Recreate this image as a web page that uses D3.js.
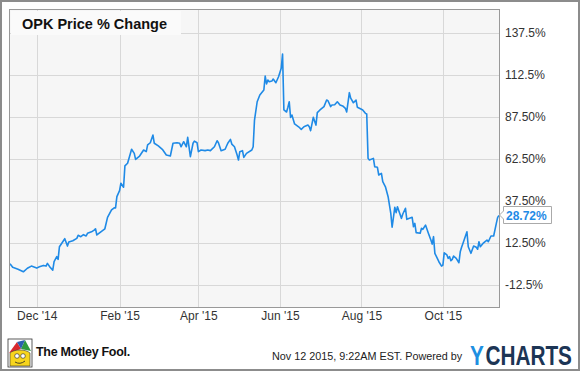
<!DOCTYPE html>
<html>
<head>
<meta charset="utf-8">
<script src="https://cdn.jsdelivr.net/npm/d3@7"></script>
<style>
  body { margin: 0; background: #fff; }
  svg { display: block; font-family: Arial, "Liberation Sans", sans-serif; }
</style>
</head>
<body>
<div id="chart"></div>
<script>
// OPK price % change
var dates = ["2014-11-11","2014-11-13","2014-11-17","2014-11-21","2014-11-24","2014-11-27","2014-12-01","2014-12-03","2014-12-06","2014-12-08",
  "2014-12-09","2014-12-11","2014-12-13","2014-12-14","2014-12-16","2014-12-17","2014-12-18","2014-12-21","2014-12-22","2014-12-24",
  "2014-12-25","2014-12-28","2014-12-31","2015-01-01","2015-01-03","2015-01-05","2015-01-07","2015-01-08","2015-01-11","2015-01-13",
  "2015-01-14","2015-01-15","2015-01-18","2015-01-21","2015-01-23","2015-01-26","2015-01-28","2015-01-29","2015-01-30","2015-02-01",
  "2015-02-02","2015-02-04","2015-02-05","2015-02-07","2015-02-09","2015-02-10","2015-02-12","2015-02-13","2015-02-16","2015-02-19",
  "2015-02-21","2015-02-22","2015-02-24","2015-02-26","2015-02-27","2015-03-02","2015-03-05","2015-03-08","2015-03-11","2015-03-13",
  "2015-03-16","2015-03-18","2015-03-19","2015-03-21","2015-03-23","2015-03-24","2015-03-26","2015-03-28","2015-03-29","2015-03-31",
  "2015-04-01","2015-04-03","2015-04-06","2015-04-08","2015-04-10","2015-04-13","2015-04-15","2015-04-16","2015-04-18","2015-04-21",
  "2015-04-23","2015-04-25","2015-04-26","2015-04-28","2015-04-30","2015-05-01","2015-05-02","2015-05-04","2015-05-05","2015-05-07",
  "2015-05-11","2015-05-12","2015-05-13","2015-05-15","2015-05-17","2015-05-20","2015-05-21","2015-05-22","2015-05-23","2015-05-24",
  "2015-05-26","2015-05-27","2015-05-29","2015-05-31","2015-06-02","2015-06-03","2015-06-04","2015-06-06","2015-06-07","2015-06-08",
  "2015-06-09","2015-06-10","2015-06-12","2015-06-15","2015-06-17","2015-06-19","2015-06-22","2015-06-23","2015-06-24","2015-06-26",
  "2015-06-28","2015-06-29","2015-07-01","2015-07-04","2015-07-06","2015-07-07","2015-07-09","2015-07-10","2015-07-12","2015-07-14",
  "2015-07-16","2015-07-18","2015-07-20","2015-07-21","2015-07-23","2015-07-24","2015-07-26","2015-07-28","2015-07-29","2015-08-01",
  "2015-08-02","2015-08-04","2015-08-05","2015-08-06","2015-08-07","2015-08-10","2015-08-11","2015-08-13","2015-08-14","2015-08-16",
  "2015-08-17","2015-08-19","2015-08-21","2015-08-23","2015-08-24","2015-08-26","2015-08-27","2015-08-28","2015-08-29","2015-08-31",
  "2015-09-01","2015-09-03","2015-09-04","2015-09-06","2015-09-08","2015-09-09","2015-09-10","2015-09-11","2015-09-14","2015-09-15",
  "2015-09-16","2015-09-18","2015-09-20","2015-09-22","2015-09-23","2015-09-24","2015-09-25","2015-09-28","2015-09-30","2015-10-01",
  "2015-10-02","2015-10-04","2015-10-05","2015-10-06","2015-10-07","2015-10-08","2015-10-09","2015-10-11","2015-10-13","2015-10-14",
  "2015-10-15","2015-10-16","2015-10-19","2015-10-20","2015-10-22","2015-10-24","2015-10-26","2015-10-27","2015-10-28","2015-10-29",
  "2015-10-31","2015-11-03","2015-11-04","2015-11-06","2015-11-08","2015-11-10","2015-11-11","2015-11-12"];

var values = [0,-2.1,-3.3,-4.8,-2.7,-1.4,-2.6,-1.8,-1.0,-1.4,
  0.2,-2.1,-3.8,1.2,4.2,2.6,10.1,13.7,14.9,10.5,
  12.9,13.7,15.1,16.9,16.1,17.3,16.5,18.1,19.0,20.0,
  20.8,17.1,19.0,20.8,27.6,32.0,33.3,33.2,39.9,43.5,
  47.9,45.5,58.2,59.8,65.3,68.1,65.7,62.1,64.1,67.7,
  66.7,70.7,72,76.6,71.7,70.1,68.1,64.7,64.1,71.7,
  72,71.7,69.6,72.6,69.6,75.2,63.7,71.7,73,72,
  66.7,67.7,67.3,67.7,67.3,69.6,73.2,72,67.3,68.1,
  71.7,74,71.2,69.6,64.7,61.7,66.7,67.3,63.3,65.7,
  67.7,69.6,85.5,96.4,100.4,103.4,111.7,107,109.3,108.3,
  108.7,109.9,107.7,111.3,116.3,124.8,91.5,90.3,93.1,96.4,
  87.1,88.5,83.2,81.5,80,81.5,82.5,81.5,79.2,87.1,
  82.5,89.9,91.5,93.5,97.4,97,93.5,94.5,94.6,96.4,
  94.5,93.9,92.5,90.3,101.8,98.5,95.8,97.4,93.1,91.9,
  91.5,89.5,89.1,62.7,61.7,62.7,57.7,57.4,52.8,53.8,
  48.8,45.8,39.9,30,21.7,33.6,30.4,33.9,31.5,27,
  29.6,33,26.4,27,27.6,22,24,18.5,18.1,21.1,
  20.5,23,18.5,14.1,11.7,16.1,6.2,1.2,-1.4,-0.8,
  6.5,5.2,3.2,4.2,1.8,2.6,4.6,3.2,0.6,7.1,
  9.8,12.1,19,10.1,6.2,10.5,9.8,8.6,13.1,10.1,
  12.1,14.1,13.1,16.5,16.5,24,27.6,28.72];

var yTicks = [137.5, 112.5, 87.5, 62.5, 37.5, 12.5, -12.5];
var yTickLabels = ["137.5%", "112.5%", "87.50%", "62.50%", "37.50%", "12.50%", "-12.5%"];
var xTicks = ["2014-12-01", "2015-02-01", "2015-04-01", "2015-06-01", "2015-08-01", "2015-10-01"];
var lastLabel = "28.72%";

var width = 580, height = 371;
var plot = { left: 10, top: 10, right: 499, bottom: 307 };
var parse = d3.utcParse("%Y-%m-%d");

var data = dates.map(function(d, i) { return { date: parse(d), value: values[i] }; });

var x = d3.scaleUtc()
  .domain([parse("2014-11-11"), parse("2015-11-12")])
  .range([plot.left, plot.right]);

var y = d3.scaleLinear()
  .domain([-25.75, 151])
  .range([plot.bottom, plot.top]);

var svg = d3.select("#chart").append("svg")
  .attr("width", width)
  .attr("height", height);

// outer frame
svg.append("rect")
  .attr("x", 1).attr("y", 1)
  .attr("width", width - 2).attr("height", height - 2)
  .attr("fill", "#fff")
  .attr("stroke", "#8c8c8c")
  .attr("stroke-width", 2);

// plot background
svg.append("rect")
  .attr("x", plot.left).attr("y", plot.top)
  .attr("width", plot.right - plot.left).attr("height", plot.bottom - plot.top)
  .attr("fill", "#f6f6f6");

// grid lines
var grid = svg.append("g").attr("class", "grid");
grid.selectAll("line.h")
  .data(yTicks)
  .enter().append("line")
  .attr("x1", plot.left).attr("x2", plot.right)
  .attr("y1", function(d) { return Math.round(y(d)) + 0.5; })
  .attr("y2", function(d) { return Math.round(y(d)) + 0.5; })
  .attr("stroke", "#d8d8d8");
grid.selectAll("line.v")
  .data(xTicks)
  .enter().append("line")
  .attr("y1", plot.top).attr("y2", plot.bottom)
  .attr("x1", function(d) { return Math.round(x(parse(d))) + 0.5; })
  .attr("x2", function(d) { return Math.round(x(parse(d))) + 0.5; })
  .attr("stroke", "#d8d8d8");

// title box
svg.append("rect")
  .attr("x", plot.left + 1).attr("y", plot.top + 1)
  .attr("width", 170).attr("height", 24)
  .attr("fill", "#fafafa");
svg.append("text")
  .attr("x", 22).attr("y", 29)
  .attr("font-size", "14.5px")
  .attr("font-weight", "bold")
  .attr("fill", "#111")
  .text("OPK Price % Change");

// line
var line = d3.line()
  .x(function(d) { return x(d.date); })
  .y(function(d) { return y(d.value); });

svg.append("path")
  .datum(data)
  .attr("fill", "none")
  .attr("stroke", "#1f8ae6")
  .attr("stroke-width", 1.6)
  .attr("stroke-linejoin", "round")
  .attr("d", line);

// plot border
svg.append("rect")
  .attr("x", plot.left - 0.5).attr("y", plot.top - 0.5)
  .attr("width", plot.right - plot.left + 1).attr("height", plot.bottom - plot.top + 1)
  .attr("fill", "none")
  .attr("stroke", "#999");

// y axis labels
var yAxis = d3.axisRight(y)
  .tickValues(yTicks)
  .tickSize(0)
  .tickPadding(6)
  .tickFormat(function(d, i) { return yTickLabels[i]; });
var gy = svg.append("g")
  .attr("transform", "translate(" + plot.right + ",0)")
  .call(yAxis);
gy.select(".domain").remove();
gy.selectAll("text").attr("font-size", "12px").attr("fill", "#333").attr("font-family", "Arial, 'Liberation Sans', sans-serif");

// x axis labels
var xAxis = d3.axisBottom(x)
  .tickValues(xTicks.map(parse))
  .tickSize(0)
  .tickPadding(4)
  .tickFormat(d3.utcFormat("%b '%y"));
var gx = svg.append("g")
  .attr("transform", "translate(0," + plot.bottom + ")")
  .call(xAxis);
gx.select(".domain").remove();
gx.selectAll("text").attr("font-size", "12px").attr("fill", "#333").attr("font-family", "Arial, 'Liberation Sans', sans-serif");

// last value flag
var last = data[data.length - 1];
var ly = y(last.value);
var flag = svg.append("g").attr("transform", "translate(503," + Math.round(ly) + ")");
flag.append("path")
  .attr("d", "M0.5,-4 L0.5,-8.5 L48.5,-8.5 L48.5,8.5 L0.5,8.5 L0.5,4 L-3.5,0 Z")
  .attr("fill", "#fff")
  .attr("stroke", "#aaa");
flag.append("text")
  .attr("x", 3).attr("y", 4.5)
  .attr("font-size", "12px")
  .attr("font-weight", "bold")
  .attr("fill", "#1f8ae6")
  .text(lastLabel);

// footer: Motley Fool logo
var fool = svg.append("g").attr("transform", "translate(8,339)");
fool.append("rect").attr("x", 0).attr("y", 0).attr("width", 24).attr("height", 28).attr("fill", "#fff").attr("stroke", "#333").attr("stroke-width", 0.8);
fool.append("path").attr("d", "M1,14 L9,3 L13,10 Z").attr("fill", "#d9282f");
fool.append("path").attr("d", "M13,10 L17,1 L23,12 Z").attr("fill", "#2e9b3f");
fool.append("path").attr("d", "M9,3 L13,10 L17,1 Z").attr("fill", "#2a5fb0");
fool.append("path").attr("d", "M2,14 C6,10 18,10 22,14 L22,27 L2,27 Z").attr("fill", "#f7d51d").attr("stroke", "#333").attr("stroke-width", 0.6);
fool.append("circle").attr("cx", 9).attr("cy", 17).attr("r", 2.3).attr("fill", "#fff").attr("stroke", "#222").attr("stroke-width", 0.6);
fool.append("circle").attr("cx", 15).attr("cy", 17).attr("r", 2.3).attr("fill", "#fff").attr("stroke", "#222").attr("stroke-width", 0.6);
fool.append("path").attr("d", "M7,23 Q12,26 17,22").attr("fill", "none").attr("stroke", "#222").attr("stroke-width", 0.8);
svg.append("text")
  .attr("x", 36).attr("y", 356)
  .attr("font-size", "12.5px")
  .attr("font-weight", "bold")
  .attr("letter-spacing", "-0.3")
  .attr("fill", "#111")
  .text("The Motley Fool.");

// footer: timestamp and YCharts
svg.append("text")
  .attr("x", 272).attr("y", 360)
  .attr("font-size", "10.8px")
  .attr("fill", "#222")
  .text("Nov 12 2015, 9:22AM EST. Powered by");
var yc = svg.append("g").attr("transform", "translate(470,365) scale(0.77,1)");
yc.append("text")
  .attr("x", 0).attr("y", 0)
  .attr("font-size", "27px")
  .attr("font-weight", "bold")
  .attr("fill", "#1e8fe1")
  .text("Y");
yc.append("text")
  .attr("x", 20).attr("y", 0)
  .attr("font-size", "27px")
  .attr("font-weight", "bold")
  .attr("fill", "#1c3555")
  .text("CHARTS");
</script>
</body>
</html>
